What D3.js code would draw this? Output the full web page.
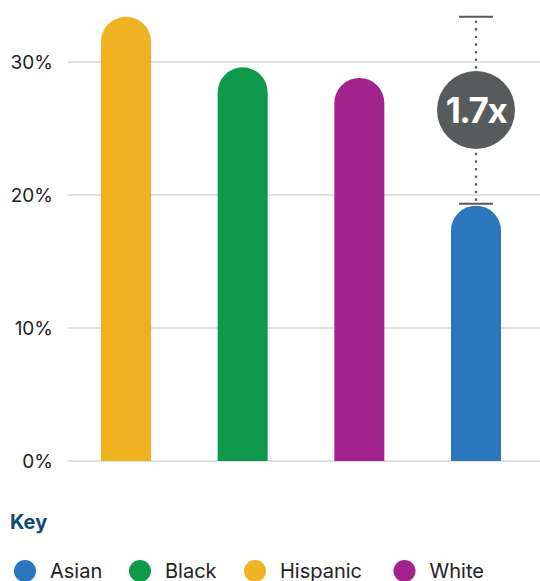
<!DOCTYPE html>
<html>
<head>
<meta charset="utf-8">
<script src="https://cdn.jsdelivr.net/npm/d3@7"></script>
<style>
  html, body { margin: 0; padding: 0; background: #fff; }
  svg { display: block; font-family: "Inter", "Liberation Sans", sans-serif; }
</style>
</head>
<body>
<svg id="chart" width="540" height="581"></svg>
<script>
// Share of each group, in percent (bar order left to right)
const categories = ["Hispanic", "Black", "White", "Asian"];
const values = [33.4, 29.6, 28.8, 19.2];
const colors = ["#efb322", "#0f9a4b", "#a2238e", "#2b76bd"];

// Legend order
const legendLabels = ["Asian", "Black", "Hispanic", "White"];
const legendColors = ["#2b76bd", "#0f9a4b", "#efb322", "#a2238e"];

const tickValues = [0, 10, 20, 30];
const ratioLabel = "1.7x";
const ratioHigh = "Hispanic";
const ratioLow = "Asian";

const svg = d3.select("#chart");

const y = d3.scaleLinear().domain([0, 30]).range([461, 62]);
const x = d3.scalePoint().domain(categories).range([126, 476]);
const barW = 50;
const r = barW / 2;

// Gridlines and tick labels
const grid = svg.append("g");
grid.selectAll("line").data(tickValues).join("line")
  .attr("x1", 68).attr("x2", 540)
  .attr("y1", d => y(d)).attr("y2", d => y(d))
  .attr("stroke", "#e1e1e1").attr("stroke-width", 2);
grid.selectAll("text").data(tickValues).join("text")
  .attr("x", 53).attr("y", d => y(d))
  .attr("dy", "0.35em")
  .attr("text-anchor", "end")
  .attr("font-size", 19)
  .attr("fill", "#222")
  .text(d => d + "%");

// Bars with a rounded top; the top of the cap sits at the value
const barPath = (cx, v) => {
  const x0 = cx - r, x1 = cx + r, yb = y(0), yt = y(v);
  return `M${x0},${yb}L${x0},${yt + r}A${r},${r} 0 0 1 ${x1},${yt + r}L${x1},${yb}Z`;
};
svg.append("g").selectAll("path").data(categories).join("path")
  .attr("d", (c, i) => barPath(x(c), values[i]))
  .attr("fill", (c, i) => colors[i]);

// Ratio bracket between the highest and lowest groups
const bx = x(ratioLow);
const yHi = y(values[categories.indexOf(ratioHigh)]);
const yLo = y(values[categories.indexOf(ratioLow)]) - 2;
const badgeY = 110, badgeR = 39;
const ink = "#575b5c";
const br = svg.append("g");
br.append("line").attr("x1", bx - 17).attr("x2", bx + 17).attr("y1", yHi).attr("y2", yHi)
  .attr("stroke", ink).attr("stroke-width", 2);
br.append("line").attr("x1", bx - 17).attr("x2", bx + 17).attr("y1", yLo).attr("y2", yLo)
  .attr("stroke", ink).attr("stroke-width", 2);
[[yHi + 5, badgeY - badgeR], [badgeY + badgeR + 5, yLo]].forEach(([a, b]) => {
  br.append("line").attr("x1", bx).attr("x2", bx).attr("y1", a).attr("y2", b)
    .attr("stroke", ink).attr("stroke-width", 2.6)
    .attr("stroke-linecap", "round").attr("stroke-dasharray", "0 7.6");
});
br.append("circle").attr("cx", bx).attr("cy", badgeY).attr("r", badgeR).attr("fill", ink);
br.append("text").attr("x", bx).attr("y", badgeY).attr("dy", "0.36em")
  .attr("text-anchor", "middle").attr("fill", "#fff")
  .attr("font-size", 35).attr("font-weight", 700).attr("letter-spacing", -1.5)
  .text(ratioLabel);

// Key
svg.append("text").attr("x", 10).attr("y", 529)
  .attr("font-size", 20).attr("font-weight", 700).attr("fill", "#0c4a73")
  .text("Key");

const legendX = [25, 140, 255, 404.5];
const lg = svg.append("g").selectAll("g").data(legendLabels).join("g")
  .attr("transform", (d, i) => `translate(${legendX[i]},571)`);
lg.append("circle").attr("r", 11).attr("fill", (d, i) => legendColors[i]);
lg.append("text").attr("x", 25).attr("dy", "0.36em")
  .attr("font-size", 20).attr("fill", "#222")
  .text(d => d);
</script>
</body>
</html>
